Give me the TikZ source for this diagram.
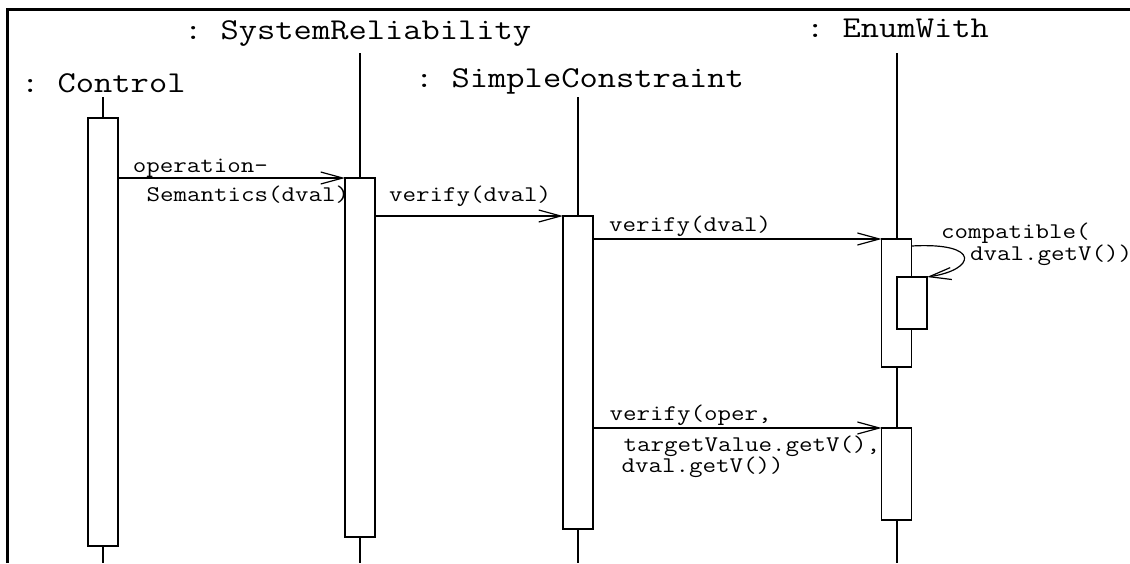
\documentclass[tikz,border=0pt]{standalone}
\usepackage{fontspec}
\setmonofont[FakeStretch=1.17]{Latin Modern Mono}
\usetikzlibrary{arrows.meta}

\tikzset{
  objtitle/.style={anchor=base west, inner sep=0pt, font=\ttfamily\fontsize{30.3}{36}\selectfont},
  msglabel/.style={anchor=base west, inner sep=0pt, font=\ttfamily\fontsize{22.4}{27}\selectfont},
  lifeline/.style={line width=1.2pt},
  activation/.style={draw, fill=white, line width=1.2pt, inner sep=0pt, outer sep=0pt, minimum width=30pt},
  msg/.style={line width=1.2pt, -{Straight Barb[length=22pt,width=12pt]}},
}

\begin{document}
\begin{tikzpicture}[x=1pt, y=-1pt]
  \useasboundingbox (0,0) rectangle (1130,563);

  % frame
  \draw[line width=3pt] (7.5,563) -- (7.5,9.5) -- (1130,9.5);

  % object headers
  \node[objtitle] (tControl) at (21,92)   {: Control};
  \node[objtitle] (tSysRel)  at (184,39)  {: SystemReliability};
  \node[objtitle] (tSimple)  at (415,87)  {: SimpleConstraint};
  \node[objtitle] (tEnum)    at (806,37.5){: EnumWith};

  % lifeline ends
  \coordinate (lControlTop) at (103,97);
  \coordinate (lControlBot) at (103,563);
  \coordinate (lSysRelTop)  at (360,53);
  \coordinate (lSysRelBot)  at (360,563);
  \coordinate (lSimpleTop)  at (578,97);
  \coordinate (lSimpleBot)  at (578,563);
  \coordinate (lEnumTop)    at (897,53);
  \coordinate (lEnumBot)    at (897,563);

  \draw[lifeline] (lControlTop) -- (lControlBot);
  \draw[lifeline] (lSysRelTop) -- (lSysRelBot);
  \draw[lifeline] (lSimpleTop) -- (lSimpleBot);
  \draw[lifeline] (lEnumTop) -- (lEnumBot);

  % activation bars
  \node[activation, minimum height=428pt] (aControl) at (103,332)   {};
  \node[activation, minimum height=359pt] (aSysRel)  at (360,357.5) {};
  \node[activation, minimum height=313pt] (aSimple)  at (578,372.5) {};
  \node[activation, minimum height=128pt] (aEnum1)   at (896.7,303) {};
  \node[activation, minimum height=52pt]  (aEnumIn)  at (912,303)   {};
  \node[activation, minimum height=92pt]  (aEnum2)   at (896.7,474) {};

  % messages
  \draw[msg] (aControl.east |- aSysRel.north west) -- (aSysRel.north west);
  \draw[msg] (aSysRel.east |- aSimple.north west) -- (aSimple.north west);
  \draw[msg] (aSimple.east |- aEnum1.north west) -- (aEnum1.north west);
  \coordinate (selfStart) at (911.7,246);
  \draw[msg] (selfStart) .. controls (982,242) and (976,270) .. (aEnumIn.north east);
  \draw[msg] (aSimple.east |- aEnum2.north west) -- (aEnum2.north west);

  % message labels
  \node[msglabel] (m1a) at (132.7,172)  {operation-};
  \node[msglabel] (m1b) at (146.5,201.7){Semantics(dval)};
  \node[msglabel] (m2)  at (389,201.7)  {verify(dval)};
  \node[msglabel] (m3)  at (609,231.7)  {verify(dval)};
  \node[msglabel] (m4a) at (941,238)    {compatible(};
  \node[msglabel] (m4b) at (970,260.7)  {dval.getV())};
  \node[msglabel] (m5a) at (609.5,420)  {verify(oper,};
  \node[msglabel] (m5b) at (623.5,451.7){targetValue.getV(),};
  \node[msglabel] (m5c) at (621.5,472)  {dval.getV())};
\end{tikzpicture}
\end{document}
